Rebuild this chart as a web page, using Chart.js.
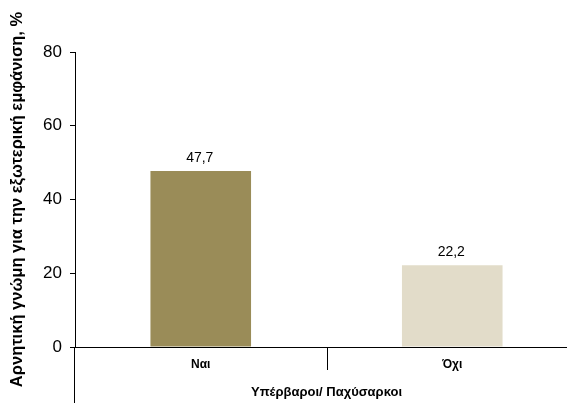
<!DOCTYPE html>
<html>
<head>
<meta charset="utf-8">
<script src="https://cdn.jsdelivr.net/npm/chart.js@4.4.1/dist/chart.umd.min.js"></script>
<style>
  html, body { margin: 0; padding: 0; background: #fff; overflow: hidden; }
  #wrap { width: 580px; height: 403px; position: relative; }
</style>
</head>
<body>
<div id="wrap"><canvas id="bodyImageChart"></canvas></div>
<script>
// answers among overweight / obese respondents
const categories = ["Ναι", "Όχι"];
const negativeOpinion = [47.7, 22.2];
const barColors = ["#9A8C58", "#E2DCC9"];
const yTicks = [0, 20, 40, 60, 80];

const yTitle = "Αρνητική γνώμη για την εξωτερική εμφάνιση, %";
const xTitle = "Υπέρβαροι/ Παχύσαρκοι";

const FONT = "'Liberation Sans', Arial, sans-serif";

// axis extension below zero and the divider between the two groups
const axisLines = {
  id: "axisLines",
  afterDraw(chart) {
    const ctx = chart.ctx;
    const area = chart.chartArea;
    const x = chart.scales.x;
    const mid = (x.getPixelForValue(0) + x.getPixelForValue(1)) / 2;
    ctx.save();
    ctx.strokeStyle = "#000";
    ctx.lineWidth = 1;
    ctx.beginPath();
    ctx.moveTo(Math.round(area.left) - 0.5, area.bottom);
    ctx.lineTo(Math.round(area.left) - 0.5, chart.height);
    ctx.moveTo(Math.round(mid) + 0.5, area.bottom);
    ctx.lineTo(Math.round(mid) + 0.5, area.bottom + 23);
    ctx.stroke();
    ctx.restore();
  }
};

// value printed above each bar, decimal comma
const barValues = {
  id: "barValues",
  afterDatasetsDraw(chart) {
    const ctx = chart.ctx;
    const meta = chart.getDatasetMeta(0);
    ctx.save();
    ctx.font = "14px " + FONT;
    ctx.fillStyle = "#000";
    ctx.textAlign = "center";
    ctx.textBaseline = "bottom";
    meta.data.forEach((bar, i) => {
      const label = negativeOpinion[i].toFixed(1).replace(".", ",");
      ctx.fillText(label, bar.x - 1, bar.y - 6);
    });
    ctx.restore();
  }
};

const ctx = document.getElementById("bodyImageChart").getContext("2d");
new Chart(ctx, {
  type: "bar",
  data: {
    labels: categories,
    datasets: [{
      data: negativeOpinion,
      backgroundColor: barColors,
      borderWidth: 0,
      barPercentage: 0.4,
      categoryPercentage: 1.0
    }]
  },
  options: {
    responsive: true,
    maintainAspectRatio: false,
    animation: false,
    layout: { padding: { top: 52, left: 0, right: 2, bottom: 0 } },
    plugins: {
      legend: { display: false },
      tooltip: { enabled: false }
    },
    scales: {
      x: {
        grid: { display: false, drawTicks: false },
        border: { display: true, color: "#000", width: 1 },
        ticks: {
          color: "#000",
          padding: 10,
          font: { family: FONT, size: 12, weight: "bold" }
        },
        title: {
          display: true,
          text: xTitle,
          color: "#000",
          padding: { top: 0, bottom: 3 },
          font: { family: FONT, size: 13, weight: "bold" }
        },
        afterFit(scale) { scale.height = 56; }
      },
      y: {
        min: 0,
        max: 80,
        afterBuildTicks(scale) { scale.ticks = yTicks.map((v) => ({ value: v })); },
        grid: { drawOnChartArea: false, drawTicks: true, tickLength: 5, color: "#000" },
        border: { display: true, color: "#000", width: 1 },
        ticks: {
          color: "#000",
          padding: 8,
          font: { family: FONT, size: 17 }
        },
        title: {
          display: true,
          text: yTitle,
          color: "#000",
          padding: { top: 8, bottom: 0 },
          font: { family: FONT, size: 16.5, weight: "bold" }
        },
        afterFit(scale) { scale.width = 75; }
      }
    }
  },
  plugins: [axisLines, barValues]
});
</script>
</body>
</html>
